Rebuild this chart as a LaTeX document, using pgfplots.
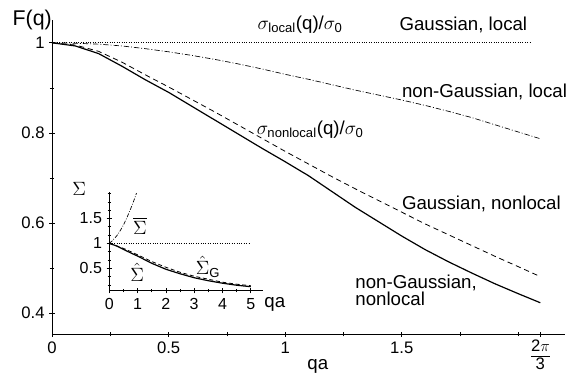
\documentclass[border=0pt]{standalone}
\usepackage{amsmath}
\usepackage{pgfplots}
\pgfplotsset{compat=1.18}
\usepackage{fontspec}
\setmainfont{Liberation Sans}
\begin{document}
\begin{tikzpicture}
\begin{axis}[
  at={(0,0)}, anchor=south west,
  scale only axis, width=384.75pt, height=235.5pt,
  xmin=0, xmax=2.2, ymin=0.353, ymax=1.05,
  axis lines=left, axis line style={-, line width=0.5pt},
  tick align=center, major tick length=4pt, minor tick length=3pt,
  tick style={black, line width=0.5pt},
  xtick={0,0.5,1,1.5,2.0944},
  xticklabels={0,0.5,1,1.5,{}},
  minor xtick={0.25,0.75,1.25,1.75,2},
  ytick={0.4,0.6,0.8,1},
  yticklabels={0.4,0.6,0.8,1},
  minor ytick={0.5,0.7,0.9},
  /pgf/number format/assume math mode=true,
  tick label style={font=\fontsize{12.5}{14}\selectfont},
  clip=false,
]
\addplot[black, line width=0.5pt, dash pattern=on 0.6pt off 1.2pt] coordinates {(0,1) (2.05,1)};
\addplot[black, line width=0.5pt, dash pattern=on 4pt off 1.5pt on 0.7pt off 1.5pt] coordinates {
(0,1) (0.1,0.999) (0.2,0.997) (0.3,0.993) (0.4,0.987) (0.5,0.980) (0.6,0.972) (0.7,0.963) (0.8,0.953) (0.9,0.942) (1.0,0.930) (1.1,0.919) (1.2,0.907) (1.3,0.895) (1.4,0.884) (1.5,0.873) (1.6,0.861) (1.7,0.848) (1.8,0.834) (1.9,0.818) (2.0,0.802) (2.094,0.787)};
\addplot[black, line width=0.6pt, dash pattern=on 4pt off 2.8pt] coordinates {
(0,1) (0.1,0.995) (0.2,0.981) (0.3,0.957) (0.4,0.929) (0.5,0.902) (0.6,0.874) (0.7,0.846) (0.8,0.817) (0.9,0.788) (1.0,0.759) (1.1,0.731) (1.2,0.703) (1.3,0.676) (1.4,0.650) (1.5,0.624) (1.6,0.598) (1.7,0.574) (1.8,0.550) (1.9,0.526) (2.0,0.503) (2.094,0.481)};
\addplot[black, line width=0.9pt] coordinates {
(0,1) (0.1,0.993) (0.2,0.976) (0.3,0.948) (0.4,0.918) (0.5,0.890) (0.6,0.859) (0.7,0.828) (0.8,0.797) (0.9,0.766) (1.0,0.736) (1.1,0.705) (1.2,0.670) (1.3,0.635) (1.4,0.603) (1.5,0.571) (1.6,0.541) (1.7,0.514) (1.8,0.489) (1.9,0.465) (2.0,0.443) (2.094,0.423)};
\node[font=\fontsize{12.5}{13}\selectfont, anchor=north, inner sep=0pt, yshift=-4pt] at (axis cs:2.0944,0.353)
  {\renewcommand\arraystretch{0.7}\begin{tabular}{@{}c@{}}2$\pi$\\[0.5pt]\hline\noalign{\vskip1pt}3\end{tabular}};
\node[font=\fontsize{16}{16}\selectfont] at (axis cs:-0.085,1.050) {F(q)};
\node[font=\fontsize{14}{14}\selectfont] at (axis cs:1.14,0.282) {qa};
\node[font=\fontsize{14}{14}\selectfont] at (axis cs:1.064,1.040) {$\sigma_{\text{local}}$(q)/$\sigma_{\text{0}}$};
\node[font=\fontsize{14}{14}\selectfont] at (axis cs:1.107,0.807) {$\sigma_{\text{nonlocal}}$(q)/$\sigma_{\text{0}}$};
\node[font=\fontsize{14}{14}\selectfont] at (axis cs:1.764,1.040) {Gaussian, local};
\node[font=\fontsize{14}{14}\selectfont, anchor=west, inner sep=0pt] at (axis cs:1.50,0.892) {non-Gaussian, local};
\node[font=\fontsize{14}{14}\selectfont, anchor=west, inner sep=0pt] at (axis cs:1.50,0.642) {Gaussian, nonlocal};
\node[font=\fontsize{14}{10}\selectfont, anchor=west, inner sep=0pt, align=left] at (axis cs:1.30,0.451) {non-Gaussian,\\nonlocal};
\end{axis}
\begin{axis}[
  at={(43pt,32.7pt)}, anchor=south west,
  scale only axis, width=115.6pt, height=74.3pt,
  xmin=0, xmax=5.45, ymin=0.05, ymax=2.04,
  axis lines=left, axis line style={-, line width=0.5pt},
  tick align=center, major tick length=4pt, minor tick length=2.5pt,
  tick style={black, line width=0.5pt},
  xtick={0,1,2,3,4,5},
  minor xtick={0.5,1.5,2.5,3.5,4.5},
  ytick={0.5,1,1.5},
  yticklabels={0.5,1,1.5},
  minor ytick={0.1667,0.3333,0.6667,0.8333,1.1667,1.3333,1.6667,1.8333,2.0},
  /pgf/number format/assume math mode=true,
  tick label style={font=\fontsize{12}{14}\selectfont},
  clip=false,
]
\addplot[black, line width=0.5pt, dash pattern=on 0.6pt off 1.2pt] coordinates {(0,1) (5,1)};
\addplot[black, line width=0.5pt, dash pattern=on 3pt off 1.2pt on 0.6pt off 1.2pt] coordinates {
(0,1) (0.1,1.05) (0.2,1.11) (0.3,1.18) (0.4,1.27) (0.5,1.37) (0.6,1.49) (0.7,1.62) (0.8,1.76) (0.9,1.91) (0.96,2.01)};
\addplot[black, line width=0.6pt, dash pattern=on 3pt off 2pt] coordinates {
(0,1) (0.5,0.90) (1,0.77) (1.5,0.635) (2,0.52) (2.5,0.42) (3,0.34) (3.5,0.28) (4,0.22) (4.5,0.18) (5,0.15)};
\addplot[black, line width=0.9pt] coordinates {
(0,1) (0.25,0.95) (0.5,0.88) (0.75,0.81) (1,0.745) (1.5,0.60) (2,0.48) (2.5,0.39) (3,0.31) (3.5,0.25) (4,0.20) (4.5,0.16) (5,0.13)};
\node[font=\fontsize{14}{14}\selectfont] at (axis cs:-1.07,2.09) {$\Sigma$};
\node[font=\fontsize{14}{14}\selectfont] at (axis cs:5.85,-0.22) {qa};
\node[font=\fontsize{14}{14}\selectfont, inner sep=0pt] at (axis cs:1.08,1.35) {$\overline{\Sigma}$};
\node[font=\fontsize{14}{14}\selectfont, inner sep=0pt] at (axis cs:0.98,0.42) {$\hat{\Sigma}$};
\node[font=\fontsize{14}{14}\selectfont, anchor=west, inner sep=0pt] at (axis cs:3.05,0.53) {$\hat{\Sigma}_{\text{G}}$};
\end{axis}
\pgfresetboundingbox
\path[use as bounding box] (-39pt,-29pt) rectangle (387pt,250.7pt);
\end{tikzpicture}
\end{document}
